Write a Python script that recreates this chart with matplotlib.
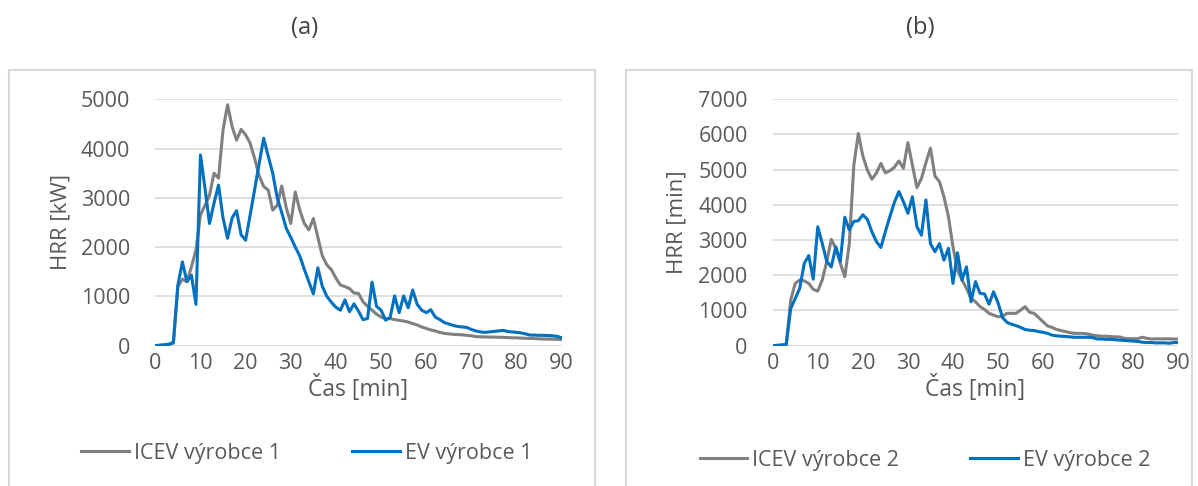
import matplotlib
matplotlib.use("Agg")
import matplotlib.pyplot as plt
from matplotlib.patches import Rectangle

plt.rcParams['font.family'] = ['Open Sans', 'DejaVu Sans']

time_min = list(range(0, 91))

icev1 = [0, 10, 10, 20, 50, 1200, 1350, 1300, 1600, 1940,
         2650, 2850, 3050, 3500, 3400, 4380, 4890, 4450, 4170, 4390,
         4280, 4110, 3800, 3450, 3230, 3160, 2750, 2850, 3240, 2800,
         2480, 3120, 2750, 2480, 2350, 2580, 2200, 1820, 1640, 1540,
         1370, 1230, 1200, 1160, 1070, 1060, 890, 800, 720, 640,
         580, 550, 550, 530, 515, 500, 480, 450, 420, 380,
         350, 320, 300, 270, 250, 240, 230, 225, 220, 210,
         200, 185, 180, 178, 175, 175, 172, 170, 165, 160,
         160, 155, 150, 148, 145, 140, 135, 135, 132, 130, 125]

ev1 = [0, 10, 20, 30, 70, 1230, 1700, 1300, 1430, 840,
       3870, 3200, 2480, 2890, 3260, 2590, 2180, 2590, 2740, 2250,
       2140, 2650, 3170, 3700, 4210, 3850, 3500, 3000, 2700, 2380,
       2200, 2000, 1820, 1550, 1300, 1050, 1580, 1200, 1000, 880,
       780, 720, 930, 690, 850, 700, 530, 550, 1290, 800,
       720, 520, 570, 1010, 670, 1010, 770, 1130, 840, 720,
       670, 730, 580, 530, 470, 440, 410, 390, 380, 370,
       330, 300, 280, 270, 280, 290, 300, 310, 290, 280,
       270, 260, 240, 215, 215, 210, 210, 205, 200, 190, 160]

icev2 = [0, 10, 20, 30, 1300, 1770, 1870, 1840, 1770, 1600,
         1550, 1870, 2390, 3020, 2770, 2340, 1960, 2900, 5130, 6030,
         5390, 4990, 4730, 4900, 5180, 4910, 4970, 5070, 5250, 5040,
         5770, 5130, 4490, 4750, 5200, 5610, 4820, 4660, 4230, 3660,
         2810, 2150, 1870, 1630, 1340, 1250, 1110, 1030, 920, 870,
         820, 840, 920, 920, 920, 1010, 1110, 950, 920, 800,
         680, 560, 520, 460, 430, 400, 370, 350, 350, 350,
         330, 300, 280, 270, 270, 260, 250, 250, 210, 200,
         200, 200, 240, 210, 190, 195, 195, 195, 195, 190, 190]

ev2 = [0, 10, 20, 30, 1060, 1340, 1630, 2340, 2560, 1890,
       3380, 2900, 2390, 2240, 2810, 2390, 3650, 3290, 3530, 3550,
       3720, 3590, 3240, 2960, 2790, 3240, 3670, 4070, 4380, 4090,
       3760, 4230, 3380, 3140, 4140, 2900, 2670, 2900, 2430, 2770,
       1770, 2640, 1870, 2240, 1250, 1820, 1490, 1470, 1180, 1530,
       1220, 800, 660, 610, 570, 520, 460, 440, 430, 400,
       380, 350, 300, 280, 270, 260, 250, 240, 240, 240,
       240, 230, 190, 190, 180, 180, 170, 160, 150, 140,
       130, 120, 100, 90, 90, 80, 80, 80, 70, 90, 90]

x_ticks = [0, 10, 20, 30, 40, 50, 60, 70, 80, 90]
y_ticks_a = [0, 1000, 2000, 3000, 4000, 5000]
y_ticks_b = [0, 1000, 2000, 3000, 4000, 5000, 6000, 7000]

GREY = '#808080'
BLUE = '#0070C0'
GRID = '#D9D9D9'
TXT = '#595959'

W, H = 1198, 486
fig = plt.figure(figsize=(W / 100, H / 100), dpi=100)
fig.patch.set_facecolor('white')

def fx(px):
    return px / W

def fy(py):
    return 1 - py / H

# panel borders
for (l, t, r, b) in [(8.7, 70, 594.7, 492), (625.7, 70, 1192, 492)]:
    fig.patches.append(Rectangle((fx(l), fy(b)), fx(r) - fx(l), fy(t) - fy(b),
                                 transform=fig.transFigure, fill=False,
                                 edgecolor=GRID, lw=1.5, zorder=0))

panels = [
    dict(x0=155.3, x1=561.7, icev=icev1, ev=ev1, yt=y_ticks_a, ymax=5000,
         ylabel='HRR [kW]', ylab_x=61, title='(a)', title_x=305,
         leg=('ICEV výrobce 1', 'EV výrobce 1'), leg_x=307, leg_y=453),
    dict(x0=772.7, x1=1178.3, icev=icev2, ev=ev2, yt=y_ticks_b, ymax=7000,
         ylabel='HRR [min]', ylab_x=677, title='(b)', title_x=920,
         leg=('ICEV výrobce 2', 'EV výrobce 2'), leg_x=925, leg_y=460),
]

y0, y1 = 345.7, 99.3
for p in panels:
    ax = fig.add_axes([fx(p['x0']), fy(y0), fx(p['x1']) - fx(p['x0']), fy(y1) - fy(y0)])
    ax.set_facecolor('none')
    l1, = ax.plot(time_min, p['icev'], color=GREY, lw=2.2, solid_joinstyle='round',
                  label=p['leg'][0], zorder=3)
    l2, = ax.plot(time_min, p['ev'], color=BLUE, lw=2.2, solid_joinstyle='round',
                  label=p['leg'][1], zorder=4)
    ax.set_xlim(0, 90)
    ax.set_ylim(0, p['ymax'])
    ax.set_xticks(x_ticks)
    ax.set_yticks(p['yt'])
    ax.tick_params(axis='both', length=0, labelsize=15.5, labelcolor=TXT)
    ax.tick_params(axis='y', pad=18)
    ax.tick_params(axis='x', pad=5)
    ax.grid(axis='y', color=GRID, lw=1.2, zorder=0)
    ax.set_axisbelow(True)
    for s in ax.spines.values():
        s.set_visible(False)
    ax.axhline(0, color=GRID, lw=1.2, zorder=1)
    fig.text(fx(p['ylab_x']), fy(222), p['ylabel'], rotation=90, ha='center',
             va='center', fontsize=16, color=TXT)
    fig.text(fx((p['x0'] + p['x1']) / 2), fy(388), 'Čas [min]', ha='center',
             va='center', fontsize=16.5, color=TXT)
    fig.text(fx(p['title_x']), fy(28), p['title'], ha='center', va='center',
             fontsize=17, color='#404040')
    fig.legend(handles=[l1, l2], loc='center', bbox_to_anchor=(fx(p['leg_x']), fy(p['leg_y'])),
               ncol=2, frameon=False, fontsize=15.5, labelcolor=TXT,
               handlelength=2.2, handletextpad=0.25, columnspacing=3.3)

fig.savefig('out.png', dpi=100)
